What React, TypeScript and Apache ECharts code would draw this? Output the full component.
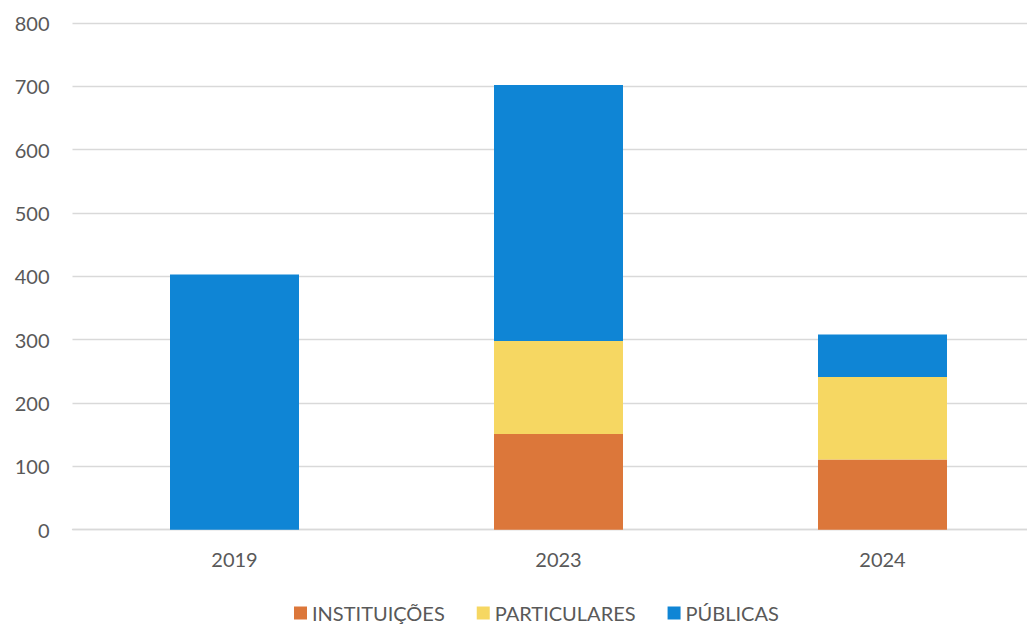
import React, { useEffect, useRef } from "react";
import * as echarts from "echarts";

const categories = ["2019", "2023", "2024"];
const instituicoes = [0, 151, 111];
const particulares = [0, 147, 130];
const publicas = [403, 404, 67];
const yTicks = { min: 0, max: 800, interval: 100 };

const FONT = "Lato, 'Open Sans', sans-serif";

export default function App() {
  const ref = useRef<HTMLDivElement>(null);
  useEffect(() => {
    if (!ref.current) return;
    const chart = echarts.init(ref.current, undefined, { renderer: "svg" });
    const mk = (name: string, data: number[], color: string) => ({
      name,
      type: "bar",
      stack: "total",
      data: data.map((v) => (v === 0 ? null : v)),
      barWidth: 129,
      itemStyle: { color },
      emphasis: { disabled: true },
    });
    chart.setOption({
      animation: false,
      textStyle: { fontFamily: FONT },
      grid: { left: 72.5, right: 15.5, top: 23, bottom: 96.3, containLabel: false },
      legend: {
        left: 294,
        top: 603,
        padding: 0,
        itemWidth: 13,
        itemHeight: 13,
        itemGap: 32,
        icon: "rect",
        textStyle: { fontSize: 20, color: "#595959", fontFamily: FONT, lineHeight: 20 },
        data: ["INSTITUIÇÕES", "PARTICULARES", "PÚBLICAS"],
      },
      xAxis: {
        type: "category",
        data: categories,
        axisLine: { lineStyle: { color: "#D9D9D9", width: 1.3 } },
        axisTick: { show: false },
        axisLabel: { fontSize: 20, color: "#595959", margin: 19, fontFamily: FONT },
      },
      yAxis: {
        type: "value",
        min: yTicks.min,
        max: yTicks.max,
        interval: yTicks.interval,
        axisLine: { show: false },
        axisTick: { show: false },
        splitLine: { lineStyle: { color: "#D9D9D9", width: 1.3 } },
        axisLabel: { fontSize: 20, color: "#595959", margin: 23, fontFamily: FONT },
      },
      series: [
        mk("INSTITUIÇÕES", instituicoes, "#DC773A"),
        mk("PARTICULARES", particulares, "#F6D762"),
        mk("PÚBLICAS", publicas, "#0F85D5"),
      ],
    });
    return () => chart.dispose();
  }, []);
  return (
    <div style={{ position: "fixed", left: 0, top: 0, width: 1027, height: 626, overflow: "hidden", background: "#fff" }}>
      <div ref={ref} style={{ width: 1060, height: 626 }} />
    </div>
  );
}
